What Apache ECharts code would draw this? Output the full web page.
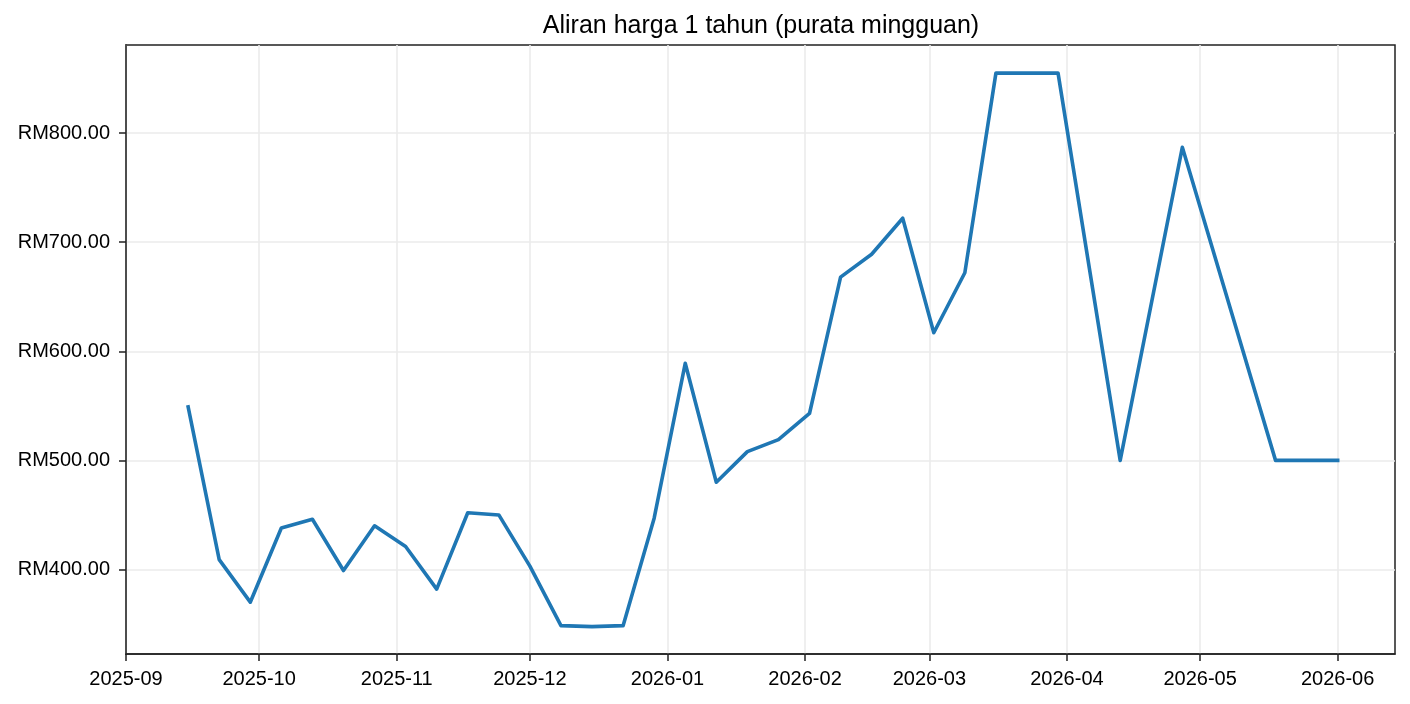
<!DOCTYPE html>
<html>
<head>
<meta charset="utf-8">
<script src="https://cdn.jsdelivr.net/npm/echarts@6/dist/echarts.min.js"></script>
<style>
html,body{margin:0;padding:0;background:#fff;}
#chart{width:1410px;height:704px;}
</style>
</head>
<body>
<div id="chart"></div>
<script>
const chartTitle = 'Aliran harga 1 tahun (purata mingguan)';
const weekDates = [
  '2025-09-15','2025-09-22','2025-09-29','2025-10-06','2025-10-13','2025-10-20','2025-10-27',
  '2025-11-03','2025-11-10','2025-11-17','2025-11-24','2025-12-01','2025-12-08','2025-12-15',
  '2025-12-22','2025-12-29','2026-01-05','2026-01-12','2026-01-19','2026-01-26','2026-02-02',
  '2026-02-09','2026-02-16','2026-02-23','2026-03-02','2026-03-09','2026-03-16','2026-03-23',
  '2026-03-30','2026-04-13','2026-04-27','2026-05-18','2026-05-25','2026-06-01'
];
const weekPrices = [
  549, 409, 370, 438, 446, 399, 440,
  421, 382, 452, 450, 403, 348.5, 347.6,
  348.5, 447, 589, 480, 508, 519, 543,
  668, 689, 722, 617, 672, 855, 855,
  855, 500, 787, 500, 500, 500
];
const monthTicks = ['2025-09','2025-10','2025-11','2025-12','2026-01','2026-02','2026-03','2026-04','2026-05','2026-06'];
const priceTicks = [400, 500, 600, 700, 800];

function ts(s) {
  const p = s.split('-').map(Number);
  return new Date(p[0], p[1] - 1, p[2] || 1).getTime();
}
function pad(n){ return n < 10 ? '0' + n : '' + n; }

const seriesData = weekDates.map((d, i) => [ts(d), weekPrices[i]]);
const tickTs = monthTicks.map(ts);
const xMin = ts('2025-09-01');
const xMax = ts('2026-06-14') - 2 * 3600 * 1000;

const font = 'Liberation Sans, Arial, Helvetica, sans-serif';
const chart = echarts.init(document.getElementById('chart'), null, {renderer: 'canvas'});
chart.setOption({
  animation: false,
  backgroundColor: '#ffffff',
  title: {
    text: chartTitle,
    left: 756,
    textAlign: 'center',
    top: 9,
    textStyle: {fontFamily: font, fontSize: 25, fontWeight: 'normal', color: '#000'}
  },
  grid: {
    left: 126, right: 15, top: 45, bottom: 50,
    containLabel: false,
    show: true, borderColor: '#222', borderWidth: 1.5, backgroundColor: 'transparent'
  },
  xAxis: {
    type: 'value',
    min: xMin,
    max: xMax,
    axisLine: {show: true, lineStyle: {color: '#222', width: 1.5}},
    axisTick: {show: true, length: 7, inside: false, customValues: tickTs, lineStyle: {color: '#222', width: 1.5}},
    axisLabel: {
      show: true, customValues: tickTs, margin: 15,
      fontFamily: font, fontSize: 20, color: '#000',
      hideOverlap: false,
      formatter: function (v) { const d = new Date(v); return d.getFullYear() + '-' + pad(d.getMonth() + 1); }
    },
    splitLine: {show: true, lineStyle: {color: '#ebebeb', width: 1.6}}
  },
  yAxis: {
    type: 'value',
    min: 322.5,
    max: 880.8,
    axisLine: {show: true, lineStyle: {color: '#222', width: 1.5}},
    axisTick: {show: true, length: 7, inside: false, customValues: priceTicks, lineStyle: {color: '#222', width: 1.5}},
    axisLabel: {
      show: true, customValues: priceTicks, margin: 15,
      fontFamily: font, fontSize: 20, color: '#000',
      lineHeight: 20,
      padding: [4, 1, 0, 0],
      formatter: function (v) { return 'RM' + Number(v).toFixed(2); }
    },
    splitLine: {show: true, lineStyle: {color: '#ebebeb', width: 1.6}}
  },
  series: [{
    type: 'line',
    data: seriesData,
    showSymbol: false,
    symbol: 'none',
    lineStyle: {color: '#1f77b4', width: 3.6, cap: 'square', join: 'round'},
    z: 3
  }]
});
</script>
</body>
</html>
